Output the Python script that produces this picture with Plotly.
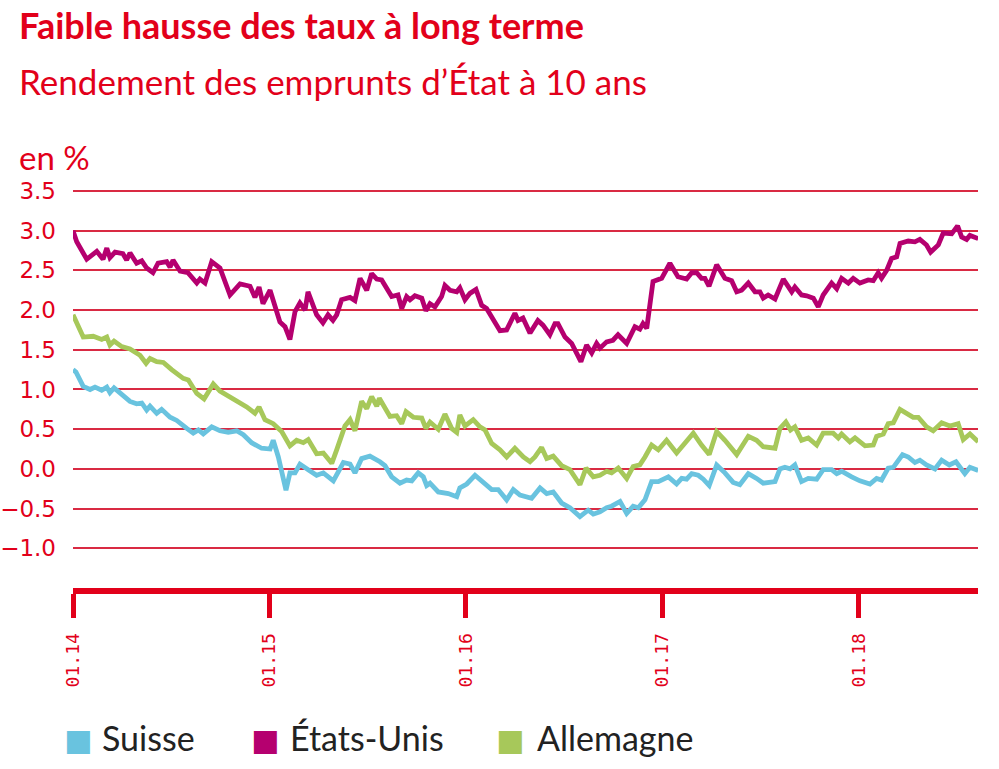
import plotly.graph_objects as go

RED = "#e2001a"
GRID = "#d92a43"

# time in decimal years, yields in %
t_us = [2014.000, 2014.019, 2014.070, 2014.121, 2014.153, 2014.172, 2014.188, 2014.214, 2014.254, 2014.273,
        2014.290, 2014.324, 2014.350, 2014.375, 2014.407, 2014.433, 2014.477, 2014.494, 2014.509, 2014.545,
        2014.585, 2014.630, 2014.646, 2014.672, 2014.706, 2014.748, 2014.799, 2014.850, 2014.901, 2014.926,
        2014.947, 2014.967, 2015.003, 2015.053, 2015.079, 2015.104, 2015.130, 2015.155, 2015.181, 2015.196,
        2015.240, 2015.272, 2015.298, 2015.323, 2015.342, 2015.367, 2015.410, 2015.435, 2015.461, 2015.495,
        2015.520, 2015.546, 2015.571, 2015.622, 2015.654, 2015.673, 2015.698, 2015.715, 2015.740, 2015.775,
        2015.796, 2015.817, 2015.842, 2015.876, 2015.893, 2015.919, 2015.953, 2015.969, 2015.995, 2016.020,
        2016.051, 2016.080, 2016.105, 2016.173, 2016.207, 2016.249, 2016.265, 2016.290, 2016.326, 2016.366,
        2016.392, 2016.427, 2016.453, 2016.468, 2016.504, 2016.538, 2016.585, 2016.614, 2016.640, 2016.665,
        2016.682, 2016.716, 2016.748, 2016.774, 2016.818, 2016.860, 2016.885, 2016.901, 2016.920, 2016.952,
        2016.996, 2017.038, 2017.079, 2017.123, 2017.149, 2017.174, 2017.199, 2017.216, 2017.237, 2017.276,
        2017.318, 2017.352, 2017.378, 2017.403, 2017.437, 2017.471, 2017.496, 2017.513, 2017.538, 2017.573,
        2017.615, 2017.658, 2017.674, 2017.708, 2017.734, 2017.768, 2017.793, 2017.818, 2017.861, 2017.887,
        2017.912, 2017.946, 2017.971, 2018.005, 2018.047, 2018.073, 2018.098, 2018.115, 2018.141, 2018.166,
        2018.192, 2018.209, 2018.251, 2018.285, 2018.310, 2018.344, 2018.365, 2018.404, 2018.429, 2018.472,
        2018.502, 2018.523, 2018.548, 2018.565, 2018.607]
etats_unis = [3.00, 2.86, 2.64, 2.74, 2.64, 2.78, 2.66, 2.73, 2.71, 2.63,
              2.72, 2.59, 2.62, 2.53, 2.47, 2.59, 2.61, 2.54, 2.63, 2.49,
              2.47, 2.34, 2.39, 2.34, 2.61, 2.53, 2.19, 2.33, 2.30, 2.16,
              2.29, 2.08, 2.25, 1.85, 1.79, 1.63, 1.98, 2.09, 2.00, 2.23,
              1.94, 1.84, 1.94, 1.87, 1.94, 2.13, 2.16, 2.12, 2.40, 2.25,
              2.46, 2.39, 2.38, 2.17, 2.19, 2.02, 2.17, 2.13, 2.18, 2.15,
              1.99, 2.08, 2.04, 2.17, 2.31, 2.25, 2.23, 2.28, 2.13, 2.21,
              2.26, 2.06, 2.02, 1.74, 1.75, 1.96, 1.87, 1.90, 1.71, 1.87,
              1.81, 1.69, 1.83, 1.83, 1.66, 1.58, 1.35, 1.56, 1.46, 1.58,
              1.52, 1.60, 1.62, 1.69, 1.58, 1.79, 1.76, 1.83, 1.77, 2.36,
              2.40, 2.59, 2.42, 2.39, 2.47, 2.47, 2.40, 2.40, 2.30, 2.57,
              2.40, 2.37, 2.23, 2.25, 2.34, 2.23, 2.23, 2.15, 2.19, 2.14,
              2.39, 2.23, 2.29, 2.19, 2.18, 2.15, 2.04, 2.19, 2.34, 2.27,
              2.40, 2.34, 2.40, 2.34, 2.38, 2.37, 2.47, 2.40, 2.50, 2.65,
              2.67, 2.84, 2.87, 2.86, 2.89, 2.82, 2.73, 2.82, 2.97, 2.96,
              3.06, 2.92, 2.89, 2.94, 2.90]

t_de = [2014.000, 2014.052, 2014.103, 2014.146, 2014.172, 2014.188, 2014.209, 2014.248, 2014.290, 2014.341,
        2014.372, 2014.392, 2014.426, 2014.460, 2014.502, 2014.561, 2014.587, 2014.630, 2014.667, 2014.689,
        2014.714, 2014.748, 2014.816, 2014.884, 2014.926, 2014.947, 2014.977, 2015.019, 2015.062, 2015.104,
        2015.138, 2015.172, 2015.197, 2015.240, 2015.274, 2015.317, 2015.342, 2015.384, 2015.410, 2015.435,
        2015.469, 2015.495, 2015.520, 2015.546, 2015.559, 2015.613, 2015.647, 2015.673, 2015.695, 2015.732,
        2015.775, 2015.796, 2015.817, 2015.859, 2015.893, 2015.927, 2015.953, 2015.969, 2015.995, 2016.037,
        2016.071, 2016.097, 2016.131, 2016.173, 2016.207, 2016.249, 2016.292, 2016.326, 2016.351, 2016.385,
        2016.411, 2016.444, 2016.487, 2016.529, 2016.580, 2016.611, 2016.648, 2016.682, 2016.716, 2016.741,
        2016.775, 2016.818, 2016.851, 2016.885, 2016.911, 2016.945, 2016.979, 2017.021, 2017.072, 2017.106,
        2017.157, 2017.199, 2017.238, 2017.276, 2017.318, 2017.378, 2017.437, 2017.479, 2017.513, 2017.573,
        2017.598, 2017.628, 2017.652, 2017.674, 2017.708, 2017.742, 2017.785, 2017.818, 2017.869, 2017.895,
        2017.912, 2017.954, 2017.980, 2018.031, 2018.073, 2018.090, 2018.124, 2018.149, 2018.175, 2018.209,
        2018.243, 2018.276, 2018.302, 2018.344, 2018.378, 2018.421, 2018.463, 2018.505, 2018.531, 2018.565,
        2018.607]
allemagne = [1.94, 1.66, 1.67, 1.63, 1.66, 1.56, 1.61, 1.54, 1.51, 1.43,
             1.33, 1.39, 1.35, 1.34, 1.25, 1.14, 1.12, 0.95, 0.88, 0.97,
             1.07, 0.98, 0.88, 0.78, 0.70, 0.78, 0.62, 0.57, 0.47, 0.29,
             0.36, 0.33, 0.37, 0.19, 0.20, 0.07, 0.24, 0.54, 0.62, 0.48,
             0.85, 0.76, 0.91, 0.79, 0.89, 0.66, 0.67, 0.57, 0.72, 0.65,
             0.64, 0.51, 0.59, 0.50, 0.69, 0.51, 0.46, 0.68, 0.54, 0.62,
             0.53, 0.49, 0.32, 0.24, 0.15, 0.26, 0.15, 0.09, 0.15, 0.27,
             0.13, 0.16, 0.04, -0.01, -0.20, 0.01, -0.10, -0.08, -0.03, -0.05,
             0.01, -0.12, 0.03, 0.05, 0.15, 0.30, 0.24, 0.36, 0.20, 0.30,
             0.45, 0.30, 0.18, 0.47, 0.36, 0.18, 0.41, 0.36, 0.28, 0.26,
             0.51, 0.59, 0.49, 0.53, 0.36, 0.39, 0.30, 0.45, 0.45, 0.39,
             0.44, 0.34, 0.39, 0.29, 0.30, 0.41, 0.44, 0.57, 0.58, 0.75,
             0.70, 0.65, 0.65, 0.53, 0.48, 0.58, 0.54, 0.57, 0.37, 0.44,
             0.34]

t_ch = [2014.000, 2014.015, 2014.052, 2014.087, 2014.112, 2014.146, 2014.172, 2014.188, 2014.209, 2014.256,
        2014.290, 2014.324, 2014.350, 2014.375, 2014.392, 2014.426, 2014.451, 2014.494, 2014.528, 2014.579,
        2014.612, 2014.638, 2014.663, 2014.706, 2014.748, 2014.790, 2014.833, 2014.867, 2014.909, 2014.960,
        2015.003, 2015.019, 2015.045, 2015.084, 2015.104, 2015.130, 2015.155, 2015.197, 2015.240, 2015.274,
        2015.325, 2015.376, 2015.410, 2015.435, 2015.469, 2015.511, 2015.520, 2015.562, 2015.588, 2015.622,
        2015.664, 2015.698, 2015.724, 2015.757, 2015.783, 2015.800, 2015.817, 2015.859, 2015.910, 2015.953,
        2015.969, 2016.004, 2016.046, 2016.088, 2016.131, 2016.164, 2016.207, 2016.241, 2016.275, 2016.334,
        2016.377, 2016.411, 2016.444, 2016.487, 2016.529, 2016.580, 2016.622, 2016.648, 2016.682, 2016.716,
        2016.741, 2016.784, 2016.818, 2016.851, 2016.877, 2016.911, 2016.945, 2016.979, 2017.030, 2017.072,
        2017.098, 2017.123, 2017.149, 2017.182, 2017.208, 2017.238, 2017.276, 2017.318, 2017.360, 2017.394,
        2017.437, 2017.479, 2017.513, 2017.573, 2017.598, 2017.623, 2017.649, 2017.674, 2017.708, 2017.742,
        2017.785, 2017.818, 2017.861, 2017.887, 2017.912, 2017.963, 2018.005, 2018.056, 2018.090, 2018.115,
        2018.149, 2018.175, 2018.222, 2018.251, 2018.285, 2018.310, 2018.344, 2018.387, 2018.421, 2018.460,
        2018.494, 2018.539, 2018.565, 2018.607]
suisse = [1.25, 1.22, 1.04, 1.00, 1.03, 0.99, 1.03, 0.96, 1.02, 0.91,
          0.85, 0.82, 0.83, 0.74, 0.79, 0.70, 0.75, 0.65, 0.61, 0.51,
          0.45, 0.49, 0.44, 0.53, 0.48, 0.46, 0.48, 0.43, 0.33, 0.26,
          0.25, 0.36, 0.15, -0.27, -0.05, -0.05, 0.06, -0.01, -0.08, -0.05,
          -0.15, 0.08, 0.06, -0.05, 0.13, 0.16, 0.15, 0.09, 0.04, -0.10,
          -0.18, -0.14, -0.15, -0.05, -0.10, -0.21, -0.18, -0.29, -0.31, -0.35,
          -0.24, -0.19, -0.08, -0.16, -0.26, -0.26, -0.39, -0.26, -0.33, -0.37,
          -0.24, -0.31, -0.29, -0.43, -0.49, -0.60, -0.52, -0.57, -0.54, -0.49,
          -0.47, -0.41, -0.56, -0.47, -0.49, -0.39, -0.16, -0.16, -0.10, -0.19,
          -0.12, -0.13, -0.06, -0.08, -0.13, -0.21, 0.05, -0.05, -0.17, -0.20,
          -0.06, -0.12, -0.18, -0.16, 0.00, 0.02, 0.00, 0.05, -0.16, -0.12,
          -0.13, -0.01, -0.01, -0.06, -0.03, -0.10, -0.15, -0.19, -0.12, -0.14,
          0.01, 0.02, 0.18, 0.15, 0.08, 0.11, 0.05, 0.00, 0.11, 0.05,
          0.09, -0.06, 0.02, -0.02]

x_ticks = [2014, 2015, 2016, 2017, 2018]
x_labels = ["01.14", "01.15", "01.16", "01.17", "01.18"]
y_ticks = [-1.0, -0.5, 0.0, 0.5, 1.0, 1.5, 2.0, 2.5, 3.0, 3.5]

series = [
    ("Suisse", t_ch, suisse, "#69c3df"),
    ("États-Unis", t_us, etats_unis, "#b5006f"),
    ("Allemagne", t_de, allemagne, "#a7c85a"),
]

fig = go.Figure()

for name, t, v, color in series:
    fig.add_trace(go.Scatter(x=t, y=v, mode="lines", name=name,
                             line=dict(color=color, width=4.8),
                             showlegend=False, hoverinfo="skip"))


# plot area: x 73..978 px, y 187..588.5 px
def px(x):
    return (x - 73) / 905


def py(y):
    return (588.5 - y) / 401.5


def note(text, x, y, size, family="Lato", color=RED, yanchor="top"):
    fig.add_annotation(text=text, x=px(x), y=py(y), xref="paper", yref="paper",
                       xanchor="left", yanchor=yanchor, showarrow=False,
                       font=dict(family=family, size=size, color=color))


note("<b>Faible hausse des taux à long terme</b>", 17, 1, 36)
note("Rendement des emprunts d’État à 10 ans", 17, 58, 35)
note("en %", 17, 135, 33)

# legend: coloured squares + names
legend_x = [(62, 100), (249, 288), (494, 535)]
for (name, t, v, color), (sx, tx) in zip(series, legend_x):
    note("■", sx, 740, 30, family="DejaVu Sans", color=color, yanchor="middle")
    note(name, tx, 738, 34, color="#222222", yanchor="middle")

fig.update_layout(
    width=999,
    height=769,
    margin=dict(l=73, r=21, t=187, b=180.5, autoexpand=False),
    plot_bgcolor="white",
    paper_bgcolor="white",
    showlegend=False,
    font=dict(family="Lato", color=RED),
    xaxis=dict(
        range=[2014.0, 2018.606],
        tickvals=x_ticks,
        ticktext=x_labels,
        tickangle=-90,
        ticks="outside",
        ticklen=24,
        tickwidth=5,
        tickcolor=RED,
        showline=True,
        linecolor=RED,
        linewidth=6,
        showgrid=False,
        zeroline=False,
        ticklabelstandoff=8,
        tickfont=dict(family="DejaVu Sans Mono", size=18, color=RED),
    ),
    yaxis=dict(
        range=[-1.5, 3.55],
        tickvals=y_ticks,
        tickformat=".1f",
        showgrid=True,
        gridcolor=GRID,
        gridwidth=1.5,
        zeroline=False,
        showline=False,
        ticks="",
        ticklabelstandoff=16,
        tickfont=dict(family="DejaVu Sans", size=23, color=RED),
    ),
)

fig.write_html("out.html", config={"displayModeBar": False},
               post_script="document.body.style.margin='0';")
